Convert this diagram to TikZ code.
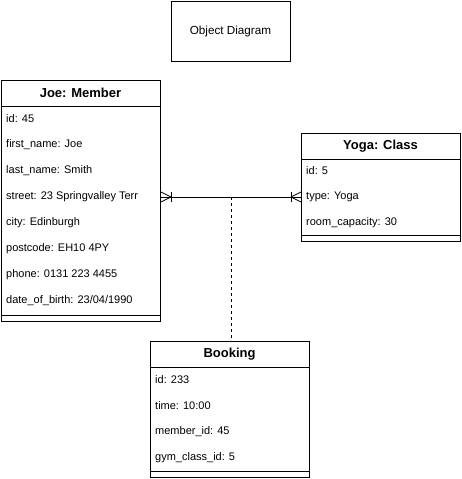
\documentclass[tikz,border=0pt]{standalone}
\usepackage{fontspec}
\setmainfont{Liberation Sans}
\begin{document}
\begin{tikzpicture}[x=1pt,y=-1pt,
  entity/.style={draw, line width=0.9pt, anchor=north west, inner sep=0pt},
  hdr/.style={font=\fontsize{13}{15}\selectfont\bfseries, anchor=center, inner sep=0pt},
  row/.style={font=\fontsize{11}{13}\selectfont, anchor=west, inner sep=0pt},
  sep/.style={line width=0.9pt},
  conn/.style={line width=0.8pt},
  dashconn/.style={line width=0.8pt, dashed, dash pattern=on 3pt off 3pt}]
\useasboundingbox (0,0) rectangle (461,479);

% title
\node[entity, minimum width=119pt, minimum height=60pt] (title) at (170.5,1) {};
\node[font=\fontsize{11.7}{14}\selectfont] (titletxt) at (title.center) {Object Diagram};

% Joe: Member
\node[entity, minimum width=159pt, minimum height=241pt] (joe) at (1,80) {};
\node[hdr] (joeh) at (80.5,93) {Joe: Member};
\draw[sep] (1,106) -- (160,106);
\node[row] (j1) at (6,119) {id: 45};
\node[row] (j2) at (6,145) {first\_name: Joe};
\node[row] (j3) at (6,171) {last\_name: Smith};
\node[row] (j4) at (6,197) {street: 23 Springvalley Terr};
\node[row] (j5) at (6,223) {city: Edinburgh};
\node[row] (j6) at (6,249) {postcode: EH10 4PY};
\node[row] (j7) at (6,275) {phone: 0131 223 4455};
\node[row] (j8) at (6,301) {date\_of\_birth: 23/04/1990};
\draw[sep] (1,315.5) -- (160,315.5);

% Yoga: Class
\node[entity, minimum width=159pt, minimum height=108pt] (yoga) at (301,133) {};
\node[hdr] (yogah) at (380.5,146) {Yoga: Class};
\draw[sep] (301,159) -- (460,159);
\node[row] (y1) at (306,171) {id: 5};
\node[row] (y2) at (306,197) {type: Yoga};
\node[row] (y3) at (306,223) {room\_capacity: 30};
\draw[sep] (301,235.5) -- (460,235.5);

% Booking
\node[entity, minimum width=159pt, minimum height=136pt] (book) at (150,341) {};
\node[hdr] (bookh) at (229.5,354) {Booking};
\draw[sep] (150,367) -- (309,367);
\node[row] (b1) at (155,380) {id: 233};
\node[row] (b2) at (155,406) {time: 10:00};
\node[row] (b3) at (155,432) {member\_id: 45};
\node[row] (b4) at (155,458) {gym\_class\_id: 5};
\draw[sep] (150,471.5) -- (309,471.5);

% connector Joe -- Yoga
\coordinate (jl) at (joe.east |- j4.west);
\coordinate (yl) at (yoga.west |- y2.west);
\draw[conn] (jl) -- (yl);
% crow's foot + bar at Joe side
\draw[conn] ([xshift=10pt]jl) -- ([yshift=-5pt]jl);
\draw[conn] ([xshift=10pt]jl) -- ([yshift=5pt]jl);
\draw[conn] ([xshift=10pt,yshift=-5pt]jl) -- ([xshift=10pt,yshift=5pt]jl);
% crow's foot + bar at Yoga side
\draw[conn] ([xshift=-10pt]yl) -- ([yshift=-5pt]yl);
\draw[conn] ([xshift=-10pt]yl) -- ([yshift=5pt]yl);
\draw[conn] ([xshift=-10pt,yshift=-5pt]yl) -- ([xshift=-10pt,yshift=5pt]yl);

% dashed association to Booking
\coordinate (mid) at (231,197);
\draw[dashconn] (mid) -- (mid |- book.north);
\end{tikzpicture}
\end{document}
